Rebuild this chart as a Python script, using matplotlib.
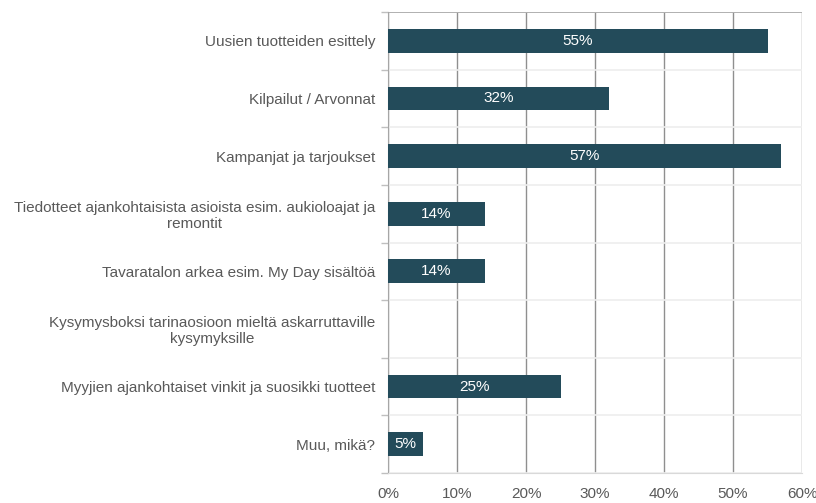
import matplotlib
matplotlib.use("Agg")
import matplotlib.pyplot as plt
import numpy as np

plt.rcParams['font.family'] = ['Liberation Sans', 'DejaVu Sans']

categories = [
    "Uusien tuotteiden esittely",
    "Kilpailut / Arvonnat",
    "Kampanjat ja tarjoukset",
    "Tiedotteet ajankohtaisista asioista esim. aukioloajat ja\nremontit",
    "Tavaratalon arkea esim. My Day sisältöä",
    "Kysymysboksi tarinaosioon mieltä askarruttaville\nkysymyksille",
    "Myyjien ajankohtaiset vinkit ja suosikki tuotteet",
    "Muu, mikä?",
]
values = [55, 32, 57, 14, 14, 0, 25, 5]
xticks = [0, 10, 20, 30, 40, 50, 60]

bar_color = "#234b5a"
text_grey = "#595959"
grid_grey = "#8f8f8f"

fig = plt.figure(figsize=(8.16, 5.03), dpi=100)
ax = fig.add_axes([388/816, 1-473/503, 414/816, 461/503])

ypos = np.arange(len(categories))
bars = ax.barh(ypos, values, height=0.41, color=bar_color, zorder=3)

for y, v in zip(ypos, values):
    if v > 0:
        ax.text(v/2, y, "%d%%" % v, ha="center", va="center",
                color="white", fontsize=11, zorder=4)

ax.set_xlim(0, 60)
ax.set_ylim(len(categories)-0.5, -0.5)
ax.set_xticks(xticks)
ax.set_xticklabels(["%d%%" % t for t in xticks])
ax.set_yticks(ypos)
ax.set_yticklabels(categories, multialignment="center", linespacing=1.15)
ax.set_yticks(np.arange(-0.5, len(categories)), minor=True)

ax.tick_params(axis="y", which="major", length=0, pad=9,
               labelsize=11, labelcolor=text_grey)
ax.tick_params(axis="y", which="minor", length=5, color="#bfbfbf", width=1)
ax.tick_params(axis="x", length=0, pad=10, labelsize=11, labelcolor=text_grey)

ax.grid(axis="x", color=grid_grey, linewidth=1, zorder=1)
ax.grid(axis="y", which="minor", color="#eeeeee", linewidth=1.2, zorder=1)
ax.axhline(-0.5, color="#a6a6a6", linewidth=1.2, zorder=2)

for s in ["top", "right"]:
    ax.spines[s].set_visible(False)
ax.spines["left"].set_color("#a6a6a6")
ax.spines["bottom"].set_color("#d9d9d9")

plt.savefig("out.png", dpi=100)
